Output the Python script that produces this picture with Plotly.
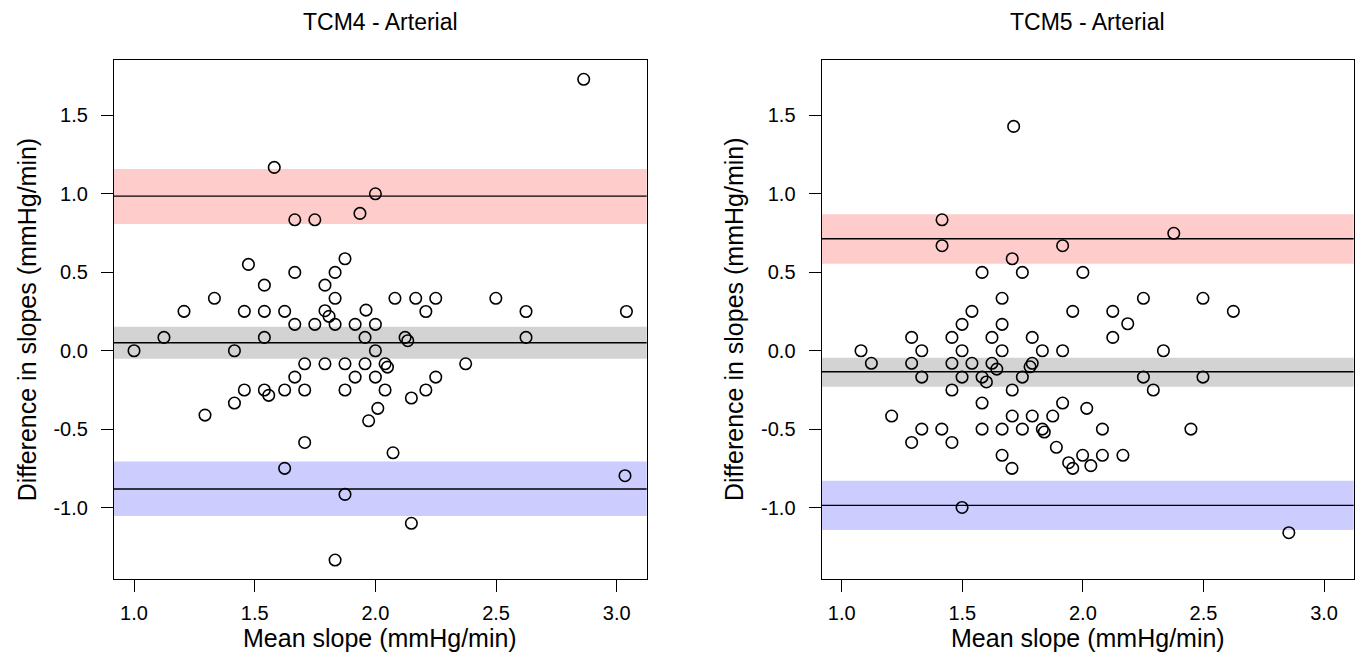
import plotly.graph_objects as go

# ---------------- data: TCM4 - Arterial ----------------
tcm4_mean = [1.581, 2.0, 1.666, 1.749, 1.936, 1.874, 1.474, 1.666, 1.833, 1.540,
             1.791, 1.333, 1.833, 1.207, 1.457, 1.540, 1.624, 1.791, 1.808, 1.961,
             1.666, 1.749, 1.833, 1.916, 2.0, 1.124, 1.540, 1.957, 1.0, 1.416,
             2.0, 1.707, 1.791, 1.874, 1.957, 1.666, 1.916, 2.0, 1.457, 1.540,
             1.624, 1.707, 1.874, 1.558, 1.416, 2.010, 1.294, 1.972, 1.707, 1.624,
             1.874, 1.833, 2.081, 2.167, 2.250, 2.499, 2.209, 2.624, 3.040, 2.123,
             2.134, 2.624, 2.040, 2.050, 2.374, 2.250, 2.040, 2.209, 2.149, 2.073,
             3.034, 2.149, 2.863]
tcm4_diff = [1.168, 1.0, 0.834, 0.834, 0.875, 0.586, 0.550, 0.499, 0.499, 0.418,
             0.418, 0.334, 0.334, 0.251, 0.251, 0.251, 0.251, 0.255, 0.219, 0.259,
             0.168, 0.168, 0.168, 0.168, 0.168, 0.085, 0.085, 0.085, 0.0, 0.0,
             0.0, -0.083, -0.083, -0.083, -0.083, -0.168, -0.168, -0.168, -0.25, -0.25,
             -0.25, -0.25, -0.25, -0.284, -0.333, -0.367, -0.410, -0.446, -0.584, -0.749,
             -0.915, -1.333, 0.334, 0.334, 0.334, 0.334, 0.25, 0.25, 0.25, 0.085,
             0.064, 0.085, -0.083, -0.104, -0.083, -0.168, -0.25, -0.25, -0.301, -0.650,
             -0.796, -1.099, 1.729]
# bias and limits of agreement with their confidence bands
tcm4_upper, tcm4_upper_band = 0.985, [0.807, 1.157]
tcm4_bias, tcm4_bias_band = 0.051, [-0.051, 0.153]
tcm4_lower, tcm4_lower_band = -0.881, [-1.053, -0.705]

# ---------------- data: TCM5 - Arterial ----------------
tcm5_mean = [1.713, 1.416, 1.416, 1.916, 1.707, 1.582, 1.749, 2.0, 1.665, 1.540,
             1.958, 2.377, 2.251, 2.498, 2.124, 2.624, 2.186, 1.499, 1.665, 1.290,
             1.457, 1.623, 1.790, 2.124, 1.080, 1.332, 1.499, 1.665, 1.832, 1.916,
             2.334, 1.123, 1.290, 1.457, 1.540, 1.623, 1.790, 1.643, 1.781, 1.332,
             1.499, 1.582, 1.749, 2.251, 2.498, 1.600, 1.457, 1.707, 2.292, 1.582,
             1.916, 2.016, 1.207, 1.707, 1.790, 1.875, 1.332, 1.415, 1.582, 1.665,
             1.749, 1.832, 1.840, 2.081, 2.448, 1.290, 1.457, 1.890, 1.665, 1.999,
             2.081, 2.166, 1.706, 1.941, 1.958, 2.033, 1.499, 2.854]
tcm5_diff = [1.429, 0.834, 0.669, 0.669, 0.586, 0.499, 0.499, 0.499, 0.334, 0.251,
             0.251, 0.748, 0.334, 0.334, 0.251, 0.251, 0.172, 0.168, 0.168, 0.085,
             0.085, 0.085, 0.085, 0.085, 0.0, 0.0, 0.0, 0.0, 0.0, 0.0,
             0.0, -0.080, -0.080, -0.080, -0.080, -0.080, -0.080, -0.117, -0.102, -0.168,
             -0.168, -0.168, -0.168, -0.168, -0.168, -0.199, -0.250, -0.250, -0.250, -0.333,
             -0.333, -0.367, -0.416, -0.416, -0.416, -0.416, -0.499, -0.499, -0.499, -0.499,
             -0.499, -0.499, -0.518, -0.499, -0.499, -0.584, -0.584, -0.615, -0.666, -0.666,
             -0.666, -0.666, -0.749, -0.713, -0.749, -0.732, -0.998, -1.159]
tcm5_upper, tcm5_upper_band = 0.713, [0.554, 0.869]
tcm5_bias, tcm5_bias_band = -0.134, [-0.229, -0.045]
tcm5_lower, tcm5_lower_band = -0.985, [-1.142, -0.828]

titles = ["TCM4 - Arterial", "TCM5 - Arterial"]
x_label = "Mean slope (mmHg/min)"
y_label = "Difference in slopes (mmHg/min)"
x_ticks = [1.0, 1.5, 2.0, 2.5, 3.0]
y_ticks = [-1.0, -0.5, 0.0, 0.5, 1.0, 1.5]

W, H = 1359, 657
FONT = "Liberation Sans, Arial, sans-serif"

fig = go.Figure()

panels = [
    dict(x=tcm4_mean, y=tcm4_diff, lines=[tcm4_upper, tcm4_bias, tcm4_lower],
         bands=[tcm4_upper_band, tcm4_bias_band, tcm4_lower_band],
         box=(114, 646.7), xa="x", ya="y"),
    dict(x=tcm5_mean, y=tcm5_diff, lines=[tcm5_upper, tcm5_bias, tcm5_lower],
         bands=[tcm5_upper_band, tcm5_bias_band, tcm5_lower_band],
         box=(821.7, 1353.7), xa="x2", ya="y2"),
]
band_colors = ["rgb(255,204,204)", "rgb(211,211,211)", "rgb(204,204,255)"]

y_top_px, y_bot_px = 60, 578.7
ydom = [1 - y_bot_px / H, 1 - y_top_px / H]

shapes = []
annotations = []
for i, p in enumerate(panels):
    xref, yref = p["xa"], p["ya"]
    for band, col in zip(p["bands"], band_colors):
        shapes.append(dict(type="rect", xref=f"{xref} domain", yref=yref,
                           x0=0, x1=1, y0=band[0], y1=band[1],
                           fillcolor=col, line=dict(width=0), layer="below"))
    for lv in p["lines"]:
        shapes.append(dict(type="line", xref=f"{xref} domain", yref=yref,
                           x0=0, x1=1, y0=lv, y1=lv,
                           line=dict(color="black", width=1.4), layer="below"))
    fig.add_trace(go.Scatter(
        x=p["x"], y=p["y"], mode="markers", xaxis=xref, yaxis=yref,
        marker=dict(symbol="circle-open", size=11.5, color="black",
                    line=dict(width=1.6, color="black")),
        showlegend=False, cliponaxis=False, hoverinfo="skip"))
    x0, x1 = p["box"]
    cx = (x0 + x1) / 2 / W
    annotations.append(dict(text=titles[i], x=cx, y=1 - 22 / H, xref="paper", yref="paper",
                            showarrow=False, font=dict(size=23, family=FONT, color="black"),
                            xanchor="center", yanchor="middle"))
    annotations.append(dict(text=x_label, x=cx, y=1 - 638 / H, xref="paper", yref="paper",
                            showarrow=False, font=dict(size=25, family=FONT, color="black"),
                            xanchor="center", yanchor="middle"))
    annotations.append(dict(text=y_label, x=(x0 - 87) / W, y=sum(ydom) / 2,
                            xref="paper", yref="paper", textangle=-90,
                            showarrow=False, font=dict(size=25, family=FONT, color="black"),
                            xanchor="center", yanchor="middle"))

axis_common = dict(showline=True, linecolor="black", linewidth=1.3, mirror=True,
                   ticks="outside", ticklen=12, tickwidth=1.3, tickcolor="black",
                   showgrid=False, zeroline=False,
                   tickfont=dict(size=20, family=FONT, color="black"))

fig.update_layout(
    width=W, height=H, paper_bgcolor="white", plot_bgcolor="white",
    margin=dict(l=0, r=0, t=0, b=0),
    shapes=shapes, annotations=annotations,
    xaxis=dict(domain=[114 / W, 646.7 / W], range=[0.917, 3.124],
               tickvals=x_ticks, ticktext=[f"{v:.1f}" for v in x_ticks], anchor="y",
               ticklabelstandoff=4, **axis_common),
    yaxis=dict(domain=ydom, range=[-1.452, 1.852],
               tickvals=y_ticks, ticktext=[f"{v:.1f}" for v in y_ticks], anchor="x",
               ticklabelstandoff=9, **axis_common),
    xaxis2=dict(domain=[821.7 / W, 1353.7 / W], range=[0.917, 3.123],
                tickvals=x_ticks, ticktext=[f"{v:.1f}" for v in x_ticks], anchor="y2",
                ticklabelstandoff=4, **axis_common),
    yaxis2=dict(domain=ydom, range=[-1.452, 1.852],
                tickvals=y_ticks, ticktext=[f"{v:.1f}" for v in y_ticks], anchor="x2",
                ticklabelstandoff=9, **axis_common),
)

fig.write_html("out.html", config={"displayModeBar": False},
               post_script="document.body.style.margin='0';document.body.style.overflow='hidden';")
